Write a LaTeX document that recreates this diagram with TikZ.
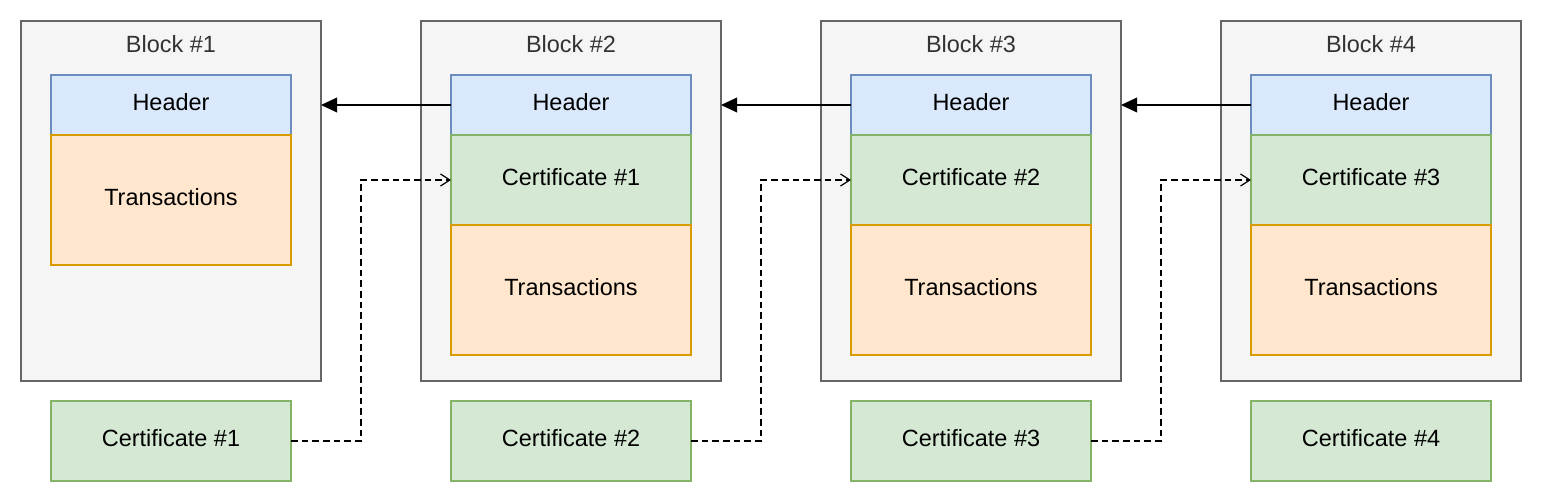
\documentclass[tikz,border=0pt]{standalone}
\usepackage{fontspec}
\setmainfont{Liberation Sans}
\usetikzlibrary{positioning}
\usetikzlibrary{arrows.meta}

\definecolor{blockfill}{HTML}{F5F5F5}
\definecolor{blockline}{HTML}{666666}
\definecolor{titlegray}{HTML}{333333}
\definecolor{headfill}{HTML}{DAE8FC}
\definecolor{headline}{HTML}{6C8EBF}
\definecolor{txfill}{HTML}{FFE6CC}
\definecolor{txline}{HTML}{D79B00}
\definecolor{certfill}{HTML}{D5E8D4}
\definecolor{certline}{HTML}{82B366}

\begin{document}
\begin{tikzpicture}[x=0.75pt,y=-0.75pt,
    every node/.style={font=\fontsize{17.6}{21}\selectfont, inner sep=0pt, outer sep=0pt, text height=12.9pt, text depth=4.5pt},
    blockbox/.style={draw=blockline, fill=blockfill, line width=1pt, minimum width=225pt, minimum height=270pt, anchor=north west},
    blocktitle/.style={text=titlegray},
    headerbox/.style={draw=headline, fill=headfill, line width=1pt, minimum width=180pt, minimum height=45pt},
    txbox/.style={draw=txline, fill=txfill, line width=1pt, minimum width=180pt, minimum height=97.5pt},
    certbox/.style={draw=certline, fill=certfill, line width=1pt, minimum width=180pt, minimum height=67.5pt},
    loosecert/.style={certbox, minimum height=60pt},
    linkarrow/.style={line width=1pt, -{Triangle[length=12pt,width=11pt]}},
    certarrow/.style={line width=0.9pt, dash pattern=on 5pt off 3pt, -{Straight Barb[length=7pt,width=9pt]}}]
\useasboundingbox (0,0) rectangle (1542,502);

% blocks
\foreach \i in {1,...,4}{
    \node[blockbox] (b\i) at ({21+400*(\i-1)},21) {};
    \node[blocktitle] (t\i) at ({171+400*(\i-1)},47) {Block \#\i};
    \node[headerbox, below=40.5pt of b\i.north] (h\i) {Header};
    \ifnum\i=1
        \node[txbox, below=0pt of h\i] (x\i) {Transactions};
    \else
        \pgfmathtruncatemacro{\prev}{\i-1}
        \node[certbox, below=0pt of h\i] (k\i) {Certificate \#\prev};
        \node[txbox, below=0pt of k\i] (x\i) {Transactions};
    \fi
    \node[loosecert, below=15pt of b\i.south] (c\i) {Certificate \#\i};
}

% links
\foreach \i/\j in {2/1,3/2,4/3}{
    \draw[linkarrow] (h\i.west) -- (h\i.west -| b\j.east);
    \draw[certarrow] (c\j.east) -- ++(52.5pt,0) |- (k\i.west);
}
\end{tikzpicture}
\end{document}
